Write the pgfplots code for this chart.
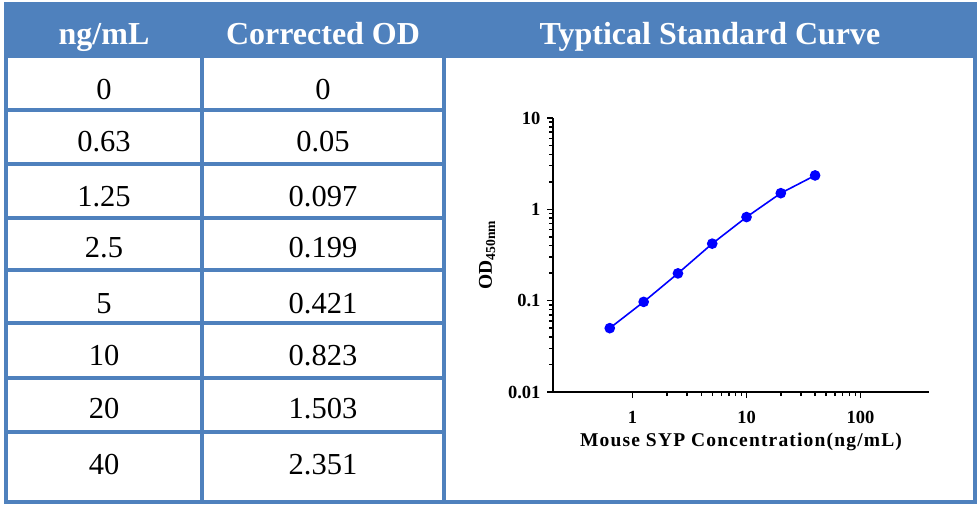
\documentclass[border=0pt]{standalone}
\usepackage{fontspec}
\setmainfont{Liberation Serif}
\usepackage{pgfplots}
\pgfplotsset{compat=1.18}
\definecolor{hdr}{RGB}{79,129,189}
\definecolor{curve}{RGB}{0,0,255}

\begin{document}
\begin{tikzpicture}
\useasboundingbox (0pt,0pt) rectangle (980pt,-505pt);
\fill[white] (0pt,0pt) rectangle (980pt,-505pt);

% table drawn in pixel coordinates
\begin{scope}[x=1pt,y=-1pt]
  \fill[hdr] (4,2) rectangle (977,58);
  \foreach \yy in {110,164,218,270,323,378,432}
    \draw[hdr,line width=4pt] (4,\yy) -- (446,\yy);
  \draw[hdr,line width=4pt] (4,501.5) -- (977,501.5);
  \foreach \xx in {6,202,444,975}
    \draw[hdr,line width=4pt] (\xx,56) -- (\xx,503.5);

  \begin{scope}[every node/.style={anchor=base,text=white,inner sep=0pt,
      font=\fontsize{32}{32}\selectfont\bfseries}]
    \node at (104,45) {ng/mL};
    \node at (323,45) {Corrected OD};
    \node at (710,45) {Typtical Standard Curve};
  \end{scope}

  \begin{scope}[every node/.style={anchor=base,inner sep=0pt,
      font=\fontsize{30.5}{30.5}\selectfont}]
    \foreach \conc/\od/\base in {0/0/100, 0.63/0.05/152, 1.25/0.097/207,
        2.5/0.199/258, 5/0.421/313, 10/0.823/365, 20/1.503/418, 40/2.351/474}{
      \node at (104,\base) {\conc};
      \node at (323,\base) {\od};
    }
  \end{scope}
\end{scope}

\begin{axis}[
    at={(553pt,-392pt)}, anchor=south west,
    scale only axis,
    width=376pt, height=274pt,
    xmode=log, ymode=log,
    xmin=0.2, xmax=400,
    ymin=0.01, ymax=10,
    axis lines*=left,
    axis line style={line width=1.8pt},
    tick align=outside,
    major tick length=6pt, minor tick length=4pt,
    every tick/.style={black, line width=1.4pt},
    xtick={1,10,100}, xticklabels={1,10,100},
    ytick={0.01,0.1,1,10}, yticklabels={0.01,0.1,1,10},
    tick label style={font=\fontsize{18.5}{18.5}\selectfont\bfseries},
    xticklabel style={yshift=-10pt},
    yticklabel style={xshift=-3pt},
    xlabel={\addfontfeature{LetterSpace=6}Mouse SYP Concentration(ng/mL)},
    ylabel={OD\textsubscript{450nm}},
    label style={font=\fontsize{19.5}{19.5}\selectfont\bfseries},
    xlabel style={yshift=-2pt},
    ylabel style={yshift=6pt},
    clip=false,
]
\addplot[curve, line width=1.6pt, mark=*, mark size=4.5pt,
         mark options={fill=curve, draw=curve}]
  coordinates {(0.63,0.05) (1.25,0.097) (2.5,0.199) (5,0.421)
               (10,0.823) (20,1.503) (40,2.351)};
\end{axis}
\end{tikzpicture}
\end{document}
